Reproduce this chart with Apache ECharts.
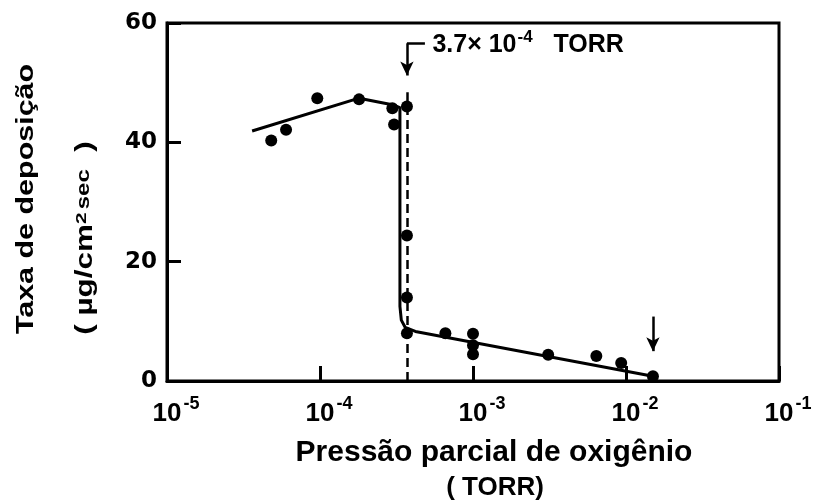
<!DOCTYPE html>
<html>
<head>
<meta charset="utf-8">
<script src="https://cdn.jsdelivr.net/npm/echarts@6/dist/echarts.min.js"></script>
<style>
  html, body { margin: 0; background: #fff; }
  #chart { width: 823px; height: 504px; }
</style>
</head>
<body>
<div id="chart"></div>
<script>
// measured points: oxygen partial pressure (TORR) vs deposition rate
const pressure = [4.8e-5, 6.0e-5, 9.6e-5, 1.8e-4, 2.97e-4, 3.05e-4, 3.7e-4, 3.7e-4, 3.7e-4, 3.7e-4,
  6.6e-4, 1.0e-3, 1.0e-3, 1.0e-3, 3.1e-3, 6.4e-3, 9.3e-3, 1.5e-2];
const rate = [40.3, 42.1, 47.4, 47.2, 45.7, 43.0, 46.0, 24.4, 14.0, 8.0,
  8.0, 7.9, 6.0, 4.5, 4.4, 4.2, 3.0, 0.8];
// the hand drawn curve through them
const curveP = [3.6e-5, 1.8e-4, 2.97e-4, 3.33e-4, 3.33e-4, 3.4e-4, 3.6e-4, 4.2e-4, 1.5e-2];
const curveR = [41.9, 47.4, 46.3, 45.8, 12.5, 10.2, 9.0, 8.3, 0.8];
// annotations
const criticalP = 3.7e-4;
const endP = 1.5e-2;
const xRange = [1e-5, 1e-1];
const yTicks = [0, 20, 40, 60];

const font = "Liberation Sans";
const black = "#000";

const myChart = echarts.init(document.querySelector("#chart"));

const sup = (v) => {
  const e = Math.round(Math.log10(v));
  return "{b|10}{s|" + (e < 0 ? "-" + (-e) : e) + "}";
};

myChart.setOption({
  animation: false,
  backgroundColor: "#fff",
  grid: {
    left: 167, right: 44, top: 23, bottom: 123,
    show: true, borderColor: black, borderWidth: 3
  },
  xAxis: {
    type: "log",
    logBase: 10,
    min: xRange[0],
    max: xRange[1],
    interval: 1,
    axisLine: { lineStyle: { color: black, width: 3 } },
    axisTick: { show: true, inside: true, length: 15, lineStyle: { color: black, width: 3 } },
    splitLine: { show: false },
    axisLabel: {
      margin: 14,
      formatter: sup,
      padding: [0, 0, 0, 18],
      rich: {
        b: { fontFamily: font, fontWeight: "bold", fontSize: 26, color: black, lineHeight: 30, verticalAlign: "bottom" },
        s: { fontFamily: font, fontWeight: "bold", fontSize: 18, color: black, verticalAlign: "top", padding: [0, 0, 14, 2] }
      }
    }
  },
  yAxis: {
    type: "value",
    min: yTicks[0],
    max: yTicks[yTicks.length - 1],
    interval: yTicks[1] - yTicks[0],
    axisLine: { show: true, lineStyle: { color: black, width: 3 } },
    axisTick: { show: true, inside: true, length: 14, lineStyle: { color: black, width: 3 } },
    splitLine: { show: false },
    axisLabel: {
      margin: 10,
      fontFamily: "DejaVu Sans",
      fontWeight: "bold",
      fontSize: 23,
      color: black
    }
  },
  series: [
    {
      type: "line",
      data: curveP.map((p, i) => [p, curveR[i]]),
      symbol: "none",
      lineStyle: { color: black, width: 3 },
      z: 3,
      markLine: {
        silent: true,
        symbol: ["none", "none"],
        label: { show: false },
        lineStyle: { color: black, width: 2.5, type: "solid" },
        data: [
          [{ coord: [criticalP, 0], lineStyle: { type: [9, 5], width: 2.5 } }, { coord: [criticalP, 48.4] }],
          [{ coord: [4.85e-4, 56.6] }, { coord: [criticalP, 56.6] }],
          [{ coord: [criticalP, 56.6] }, { coord: [criticalP, 51.2], symbol: "arrow", symbolSize: [10, 14] }],
          [{ coord: [endP, 10.8] }, { coord: [endP, 5.0], symbol: "arrow", symbolSize: [10, 14] }]
        ]
      },
      markPoint: {
        silent: true,
        symbol: "circle",
        symbolSize: 1,
        itemStyle: { color: "rgba(0,0,0,0)" },
        data: [{
          coord: [4.85e-4, 56.6],
          label: {
            show: true,
            position: "right",
            distance: 7,
            formatter: "{m|3.7× 10}{s|-4}{m|   TORR}",
            rich: {
              m: { fontFamily: font, fontWeight: "bold", fontSize: 25, color: black, lineHeight: 28, verticalAlign: "bottom" },
              s: { fontFamily: font, fontWeight: "bold", fontSize: 17, color: black, verticalAlign: "top", padding: [0, 0, 10, 1] }
            }
          }
        }]
      }
    },
    {
      type: "scatter",
      data: pressure.map((p, i) => [p, rate[i]]),
      symbol: "circle",
      symbolSize: 12,
      itemStyle: { color: black, opacity: 1 },
      z: 4
    }
  ],
  graphic: [
    {
      type: "text", x: 27, y: 199, rotation: Math.PI / 2, scaleX: 1.45, scaleY: 1.1,
      style: {
        text: "Taxa de deposição", fill: black,
        font: "bold 21px 'Liberation Sans'", align: "center", verticalAlign: "middle"
      }
    },
    {
      type: "text", x: 86, y: 238, rotation: Math.PI / 2, scaleX: 1.5, scaleY: 1.1,
      style: {
        text: "( µg/cm{s|2}{t|sec}  )", fill: black,
        font: "bold 21px 'Liberation Sans'", align: "center", verticalAlign: "middle",
        rich: {
          s: { font: "bold 14px 'Liberation Sans'", fill: black, verticalAlign: "top", padding: [0, 2, 8, 0] },
          t: { font: "bold 16px 'Liberation Sans'", fill: black, padding: [0, 0, 4, 0] }
        }
      }
    },
    {
      type: "text", x: 494, y: 453,
      style: {
        text: "Pressão parcial de oxigênio", fill: black,
        font: "bold 30px 'Liberation Sans'", align: "center", verticalAlign: "middle"
      }
    },
    {
      type: "text", x: 495, y: 488,
      style: {
        text: "( TORR)", fill: black,
        font: "bold 26px 'Liberation Sans'", align: "center", verticalAlign: "middle"
      }
    }
  ]
});
</script>
</body>
</html>
